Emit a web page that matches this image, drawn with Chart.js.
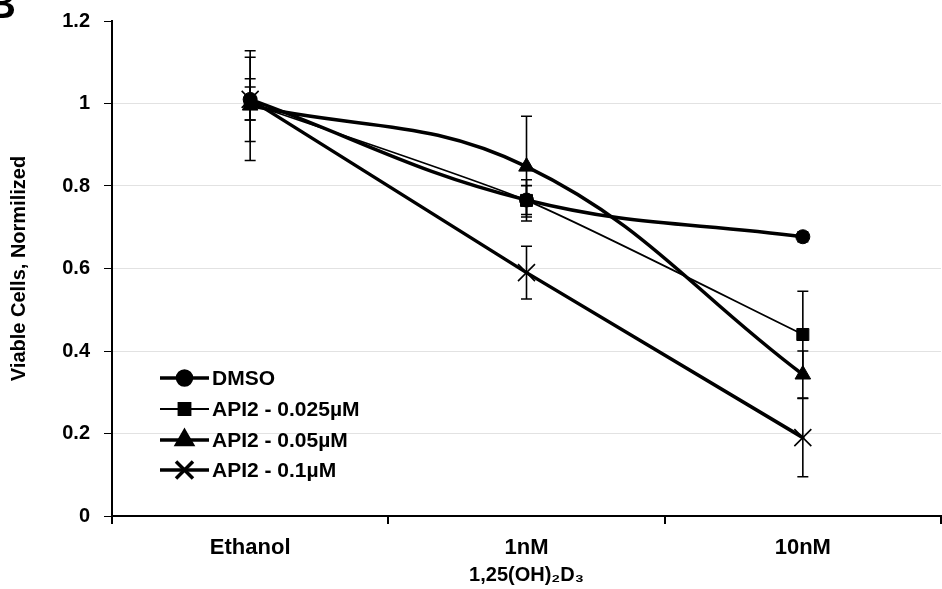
<!DOCTYPE html>
<html><head><meta charset="utf-8">
<script src="https://cdn.jsdelivr.net/npm/chart.js@4/dist/chart.umd.min.js"></script>
<style>html,body{margin:0;padding:0;background:#fff;overflow:hidden;} #wrap{width:942px;height:589px;}</style>
</head><body><div id="wrap"><canvas id="c" width="942" height="589"></canvas></div>
<script>
// ---- data ----
const categories = ['Ethanol', '1nM', '10nM'];
const xAxisTitle = '1,25(OH)\u2082D\u2083';
const yAxisTitle = 'Viable Cells, Normilized';
const panelLabel = 'B';
const yTicks = [0, 0.2, 0.4, 0.6, 0.8, 1, 1.2];
const yTickLabels = ['0', '0.2', '0.4', '0.6', '0.8', '1', '1.2'];
const seriesNames = ['DMSO', 'API2 - 0.025\u00B5M', 'API2 - 0.05\u00B5M', 'API2 - 0.1\u00B5M'];
const dmso = [1.01, 0.766, 0.677];
const dmsoErr = [0.05, 0.035, 0.012];
const api025 = [1.0, 0.765, 0.44];
const api025Err = [0.04, 0.05, 0.105];
const api05 = [0.995, 0.847, 0.343];
const api05Err = [0.133, 0.122, 0.057];
const api1 = [1.01, 0.59, 0.19];
const api1Err = [0.102, 0.064, 0.095];

const FONT = '"Liberation Sans", Arial, sans-serif';

const styles = [
  {pointStyle: 'circle', radius: 7, lw: 3.5, tension: 0.4, pbw: 1},
  {pointStyle: 'rect', radius: 8.5, lw: 1.8, tension: 0.2, pbw: 1},
  {pointStyle: 'triangle', radius: 9, lw: 3.5, tension: 0.4, pbw: 1},
  {pointStyle: 'crossRot', radius: 12, lw: 3.5, tension: 0, pbw: 1.6}
];
const values = [dmso, api025, api05, api1];
const errors = [dmsoErr, api025Err, api05Err, api1Err];

const datasets = seriesNames.map((name, i) => ({
  label: name,
  data: values[i],
  errors: errors[i],
  borderColor: '#000',
  backgroundColor: '#000',
  borderWidth: styles[i].lw,
  tension: styles[i].tension,
  pointStyle: styles[i].pointStyle,
  pointRadius: styles[i].radius,
  pointBackgroundColor: '#000',
  pointBorderColor: '#000',
  pointBorderWidth: styles[i].pbw,
  borderCapStyle: 'round',
  borderJoinStyle: 'round',
  fill: false
}));

const errorBars = {
  id: 'errorBars',
  beforeDatasetsDraw(chart) {
    const ctx = chart.ctx;
    const ys = chart.scales.y;
    ctx.save();
    ctx.strokeStyle = '#000';
    ctx.lineWidth = 1.6;
    chart.data.datasets.forEach((ds, di) => {
      const meta = chart.getDatasetMeta(di);
      meta.data.forEach((pt, j) => {
        const v = ds.data[j], e = ds.errors[j];
        const x = pt.x;
        const yt = ys.getPixelForValue(v + e);
        const yb = ys.getPixelForValue(v - e);
        ctx.beginPath();
        ctx.moveTo(x, yt); ctx.lineTo(x, yb);
        ctx.moveTo(x - 5.5, yt); ctx.lineTo(x + 5.5, yt);
        ctx.moveTo(x - 5.5, yb); ctx.lineTo(x + 5.5, yb);
        ctx.stroke();
      });
    });
    ctx.restore();
  }
};

const customLegend = {
  id: 'customLegend',
  afterDraw(chart) {
    const ctx = chart.ctx;
    const ca = chart.chartArea;
    const x0 = ca.left + 48, x1 = ca.left + 97, xm = (x0 + x1) / 2;
    const rowY = [378, 409, 440, 470];
    ctx.save();
    chart.data.datasets.forEach((ds, i) => {
      const y = rowY[i];
      ctx.strokeStyle = '#000';
      ctx.lineWidth = ds.borderWidth;
      ctx.lineCap = 'butt';
      ctx.beginPath(); ctx.moveTo(x0, y); ctx.lineTo(x1, y); ctx.stroke();
      ctx.fillStyle = '#000';
      Chart.helpers.drawPoint(ctx, {
        pointStyle: ds.pointStyle, radius: ds.pointRadius, rotation: 0,
        borderWidth: ds.pointBorderWidth
      }, xm, y);
      ctx.font = 'bold 21px ' + FONT;
      ctx.textBaseline = 'middle';
      ctx.textAlign = 'left';
      ctx.fillText(ds.label, x1 + 3, y + 1);
    });
    // panel label
    ctx.font = 'bold 40px ' + FONT;
    ctx.textBaseline = 'alphabetic';
    ctx.fillText(panelLabel, -13, 18);
    ctx.restore();
  }
};

new Chart(document.getElementById('c'), {
  type: 'line',
  data: {labels: categories, datasets},
  options: {
    responsive: false,
    devicePixelRatio: 1,
    animation: false,
    layout: {autoPadding: false, padding: {top: 21, right: 1, bottom: 0, left: 0}},
    plugins: {legend: {display: false}, tooltip: {enabled: false}},
    scales: {
      x: {
        type: 'category',
        offset: true,
        afterFit(s) { s.height = 589 - 516; s.paddingLeft = 0; s.paddingRight = 0; },
        grid: {offset: true, drawOnChartArea: false, color: '#000', tickColor: '#000', tickLength: 8, lineWidth: 2},
        border: {display: true, color: '#000', width: 2},
        ticks: {color: '#000', padding: 11, font: {family: FONT, size: 22, weight: 'bold'}, maxRotation: 0},
        title: {display: true, text: xAxisTitle, color: '#000', font: {family: FONT, size: 20, weight: 'bold'}, padding: {top: 0, bottom: 2}}
      },
      y: {
        min: 0, max: 1.2,
        afterFit(s) { s.width = 112; s.paddingTop = 0; s.paddingBottom = 0; },
        afterBuildTicks(s) { s.ticks = yTicks.map(v => ({value: v})); },
        grid: {
          color: (c) => (c.tick && (c.tick.value === 0 || c.tick.value === 1.2)) ? 'rgba(0,0,0,0)' : '#e2e2e2',
          tickColor: '#000', tickLength: 8, lineWidth: 1
        },
        border: {display: true, color: '#000', width: 2},
        ticks: {
          color: '#000', padding: 14,
          font: {family: FONT, size: 20, weight: 'bold'},
          callback: (v, idx) => yTickLabels[yTicks.indexOf(v)] ?? String(v)
        },
        title: {display: true, text: yAxisTitle, color: '#000', font: {family: FONT, size: 20, weight: 'bold'}, padding: {top: 7, bottom: 0}}
      }
    }
  },
  plugins: [errorBars, customLegend]
});
</script>
</body></html>
